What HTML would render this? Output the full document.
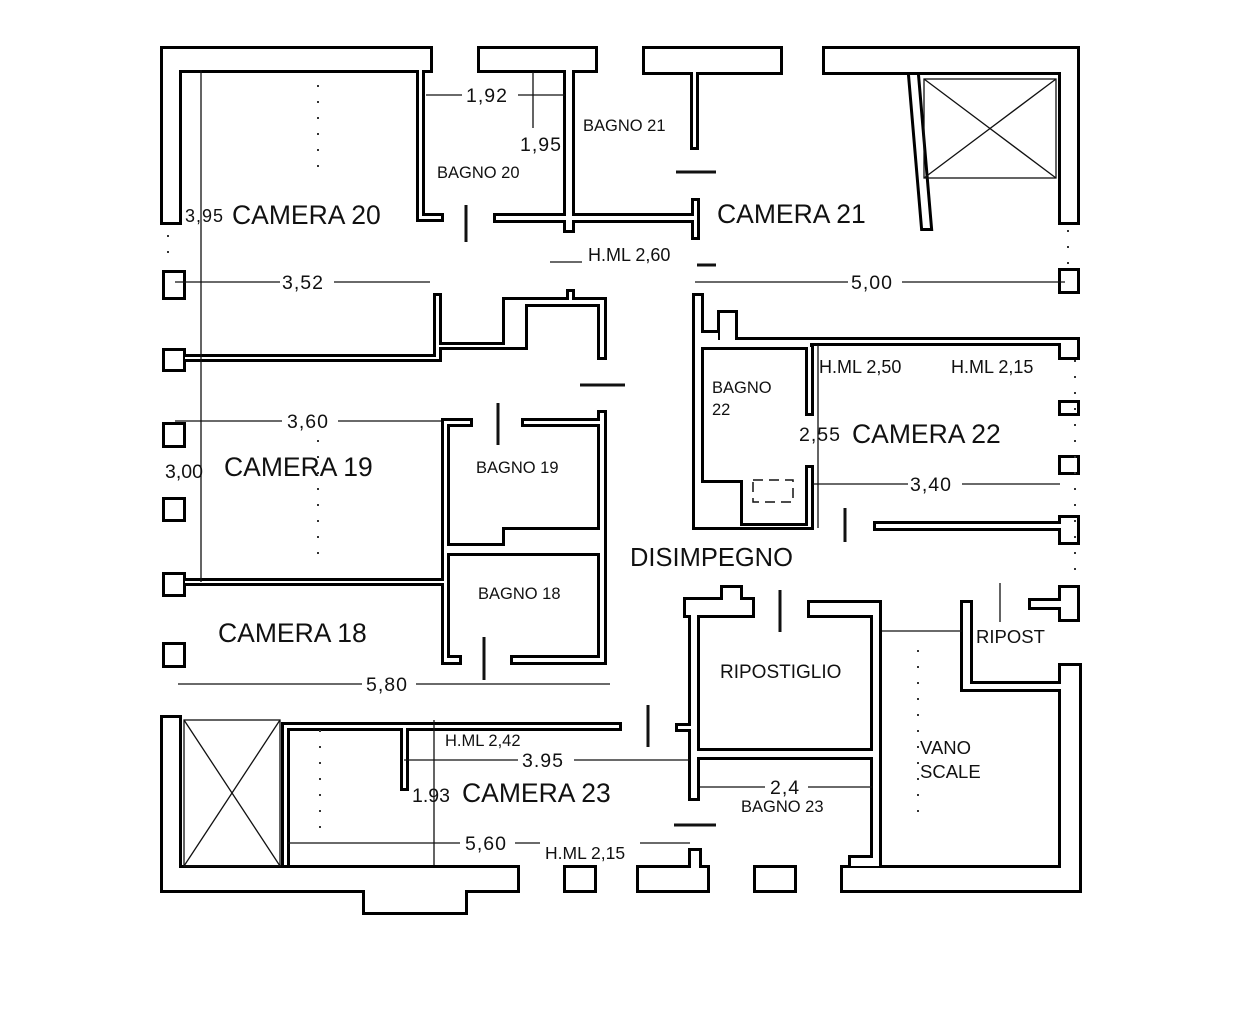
<!DOCTYPE html>
<html><head><meta charset="utf-8"><style>
html,body{margin:0;padding:0;background:#fff;}
svg{display:block;}
text{font-family:"Liberation Sans",sans-serif;fill:#111;}
</style></head><body>
<svg width="1242" height="1016" viewBox="0 0 1242 1016" xmlns="http://www.w3.org/2000/svg">
<defs>
<g id="w">
<rect x="163" y="49" width="267" height="21"/>
<rect x="163" y="49" width="16" height="173"/>
<rect x="419" y="70" width="3" height="149"/>
<rect x="419" y="216" width="22" height="3"/>
<rect x="480" y="49" width="115" height="21"/>
<rect x="566" y="70" width="6" height="160"/>
<rect x="496" y="216" width="198" height="4"/>
<rect x="645" y="49" width="135" height="23"/>
<rect x="693" y="72" width="3" height="75"/>
<rect x="694" y="201" width="3" height="36"/>
<rect x="825" y="49" width="252" height="23"/>
<rect x="1061" y="49" width="16" height="173"/>
<polygon points="910,75 917,75 930,228 923,228"/>
<rect x="165" y="273" width="18" height="24"/>
<rect x="165" y="351" width="18" height="18"/>
<rect x="165" y="425" width="18" height="20"/>
<rect x="165" y="500" width="18" height="19"/>
<rect x="165" y="575" width="18" height="19"/>
<rect x="165" y="645" width="18" height="20"/>
<rect x="1061" y="271" width="16" height="20"/>
<rect x="1061" y="340" width="16" height="17"/>
<rect x="1061" y="403" width="16" height="10"/>
<rect x="1061" y="458" width="16" height="14"/>
<rect x="1061" y="518" width="16" height="24"/>
<rect x="1061" y="588" width="16" height="31"/>
<rect x="1031" y="601" width="30" height="6"/>
<rect x="436" y="296" width="3" height="63"/>
<rect x="185" y="357" width="254" height="2"/>
<rect x="439" y="345" width="86" height="2"/>
<rect x="505" y="300" width="20" height="47"/>
<rect x="505" y="300" width="99" height="4"/>
<rect x="600" y="300" width="4" height="57"/>
<rect x="569" y="292" width="3" height="8"/>
<rect x="185" y="581" width="261" height="2"/>
<rect x="444" y="421" width="3" height="238"/>
<rect x="444" y="421" width="26" height="3"/>
<rect x="524" y="421" width="80" height="3"/>
<rect x="600" y="413" width="4" height="249"/>
<rect x="447" y="546" width="60" height="7"/>
<rect x="505" y="530" width="95" height="23"/>
<rect x="513" y="658" width="91" height="4"/>
<rect x="444" y="658" width="15" height="4"/>
<rect x="695" y="296" width="6" height="231"/>
<rect x="701" y="333" width="17" height="14"/>
<rect x="720" y="313" width="15" height="34"/>
<rect x="735" y="340" width="332" height="3"/>
<rect x="701" y="340" width="109" height="7"/>
<rect x="808" y="347" width="3" height="66"/>
<rect x="808" y="468" width="3" height="59"/>
<rect x="701" y="483" width="39" height="44"/>
<rect x="740" y="526" width="70" height="1"/>
<rect x="876" y="524" width="185" height="4"/>
<rect x="691" y="600" width="6" height="198"/>
<rect x="686" y="600" width="66" height="15"/>
<rect x="723" y="588" width="17" height="27"/>
<rect x="810" y="603" width="69" height="12"/>
<rect x="873" y="603" width="6" height="257"/>
<rect x="697" y="751" width="176" height="6"/>
<rect x="678" y="726" width="13" height="3"/>
<rect x="851" y="858" width="28" height="8"/>
<rect x="843" y="868" width="236" height="22"/>
<rect x="1061" y="666" width="18" height="224"/>
<rect x="963" y="603" width="7" height="86"/>
<rect x="963" y="684" width="98" height="5"/>
<rect x="163" y="718" width="16" height="172"/>
<rect x="163" y="868" width="354" height="22"/>
<rect x="365" y="868" width="100" height="44"/>
<rect x="285" y="725" width="334" height="3"/>
<rect x="403" y="728" width="3" height="60"/>
<rect x="284" y="725" width="3" height="140"/>
<rect x="566" y="868" width="28" height="22"/>
<rect x="639" y="868" width="68" height="22"/>
<rect x="691" y="851" width="8" height="17"/>
<rect x="756" y="868" width="38" height="22"/>
</g>
</defs>
<use href="#w" fill="#000" stroke="#000" stroke-width="6" stroke-linejoin="miter"/>
<use href="#w" fill="#fff"/>

<g stroke="#111" stroke-width="1.3" fill="none">
<rect x="924" y="79" width="132" height="99"/>
<line x1="924" y1="79" x2="1056" y2="178"/><line x1="1056" y1="79" x2="924" y2="178"/>
<rect x="184" y="720" width="96" height="146"/>
<line x1="184" y1="720" x2="280" y2="866"/><line x1="280" y1="720" x2="184" y2="866"/>
<line x1="201" y1="70" x2="201" y2="582"/>
<line x1="426" y1="95" x2="462" y2="95"/><line x1="518" y1="95" x2="565" y2="95"/>
<line x1="533" y1="72" x2="533" y2="128"/>
<line x1="175" y1="282" x2="280" y2="282"/><line x1="334" y1="282" x2="430" y2="282"/>
<line x1="695" y1="282" x2="848" y2="282"/><line x1="902" y1="282" x2="1065" y2="282"/>
<line x1="175" y1="421" x2="282" y2="421"/><line x1="338" y1="421" x2="441" y2="421"/>
<line x1="818" y1="345" x2="818" y2="528"/>
<line x1="813" y1="484" x2="908" y2="484"/><line x1="962" y1="484" x2="1060" y2="484"/>
<line x1="178" y1="684" x2="362" y2="684"/><line x1="416" y1="684" x2="610" y2="684"/>
<line x1="404" y1="760" x2="518" y2="760"/><line x1="574" y1="760" x2="690" y2="760"/>
<line x1="434" y1="720" x2="434" y2="865"/>
<line x1="288" y1="843" x2="460" y2="843"/><line x1="515" y1="843" x2="540" y2="843"/><line x1="640" y1="843" x2="690" y2="843"/>
<line x1="700" y1="787" x2="765" y2="787"/><line x1="808" y1="787" x2="872" y2="787"/>
<line x1="882" y1="631" x2="962" y2="631"/>
<line x1="1000" y1="583" x2="1000" y2="622"/>
<line x1="550" y1="262" x2="582" y2="262"/>
</g>
<g stroke="#111" stroke-width="3">
<line x1="466" y1="205" x2="466" y2="242"/>
<line x1="580" y1="385" x2="625" y2="385"/>
<line x1="498" y1="403" x2="498" y2="445"/>
<line x1="484" y1="637" x2="484" y2="680"/>
<line x1="648" y1="705" x2="648" y2="747"/>
<line x1="780" y1="590" x2="780" y2="632"/>
<line x1="674" y1="825" x2="716" y2="825"/>
<line x1="845" y1="508" x2="845" y2="542"/>
<line x1="676" y1="172" x2="716" y2="172"/>
<line x1="697" y1="265" x2="716" y2="265"/>
</g>
<rect x="753" y="480" width="40" height="22" fill="none" stroke="#111" stroke-width="1.5" stroke-dasharray="10,6"/>
<g stroke="#333" stroke-width="2" stroke-dasharray="2,14">
<line x1="318" y1="85" x2="318" y2="170"/>
<line x1="318" y1="440" x2="318" y2="560"/>
<line x1="320" y1="730" x2="320" y2="840"/>
<line x1="918" y1="650" x2="918" y2="820"/>
<line x1="1068" y1="230" x2="1068" y2="265"/>
<line x1="1075" y1="360" x2="1075" y2="580"/>
<line x1="168" y1="235" x2="168" y2="265"/>
</g>

<g font-size="26.5">
<text x="232" y="224">CAMERA 20</text>
<text x="717" y="223">CAMERA 21</text>
<text x="852" y="443">CAMERA 22</text>
<text x="224" y="476">CAMERA 19</text>
<text x="218" y="642">CAMERA 18</text>
<text x="462" y="802">CAMERA 23</text>
<text x="630" y="566" font-size="25.5">DISIMPEGNO</text>
</g>
<g font-size="19.5" letter-spacing="1">
<text x="185" y="222" font-size="18">3,95</text>
<text x="466" y="102">1,92</text>
<text x="520" y="151">1,95</text>
<text x="282" y="289">3,52</text>
<text x="851" y="289">5,00</text>
<text x="287" y="428">3,60</text>
<text x="165" y="478" letter-spacing="0">3,00</text>
<text x="799" y="441">2,55</text>
<text x="910" y="491">3,40</text>
<text x="366" y="691">5,80</text>
<text x="522" y="767">3.95</text>
<text x="412" y="802" letter-spacing="0">1.93</text>
<text x="770" y="794">2,4</text>
<text x="465" y="850">5,60</text>
</g>
<g font-size="16.5">
<text x="437" y="178">BAGNO 20</text>
<text x="583" y="131">BAGNO 21</text>
<text x="712" y="393">BAGNO</text>
<text x="712" y="415">22</text>
<text x="476" y="473">BAGNO 19</text>
<text x="478" y="599">BAGNO 18</text>
<text x="741" y="812">BAGNO 23</text>
<text x="588" y="261" font-size="18">H.ML 2,60</text>
<text x="819" y="373" font-size="18">H.ML 2,50</text>
<text x="951" y="373" font-size="18">H.ML 2,15</text>
<text x="445" y="746">H.ML 2,42</text>
<text x="545" y="859" font-size="17.5">H.ML 2,15</text>
<text x="720" y="678" font-size="19">RIPOSTIGLIO</text>
<text x="976" y="643" font-size="18.5">RIPOST</text>
<text x="920" y="754" font-size="18.5">VANO</text>
<text x="920" y="778" font-size="18.5">SCALE</text>
</g>
</svg>
</body></html>
